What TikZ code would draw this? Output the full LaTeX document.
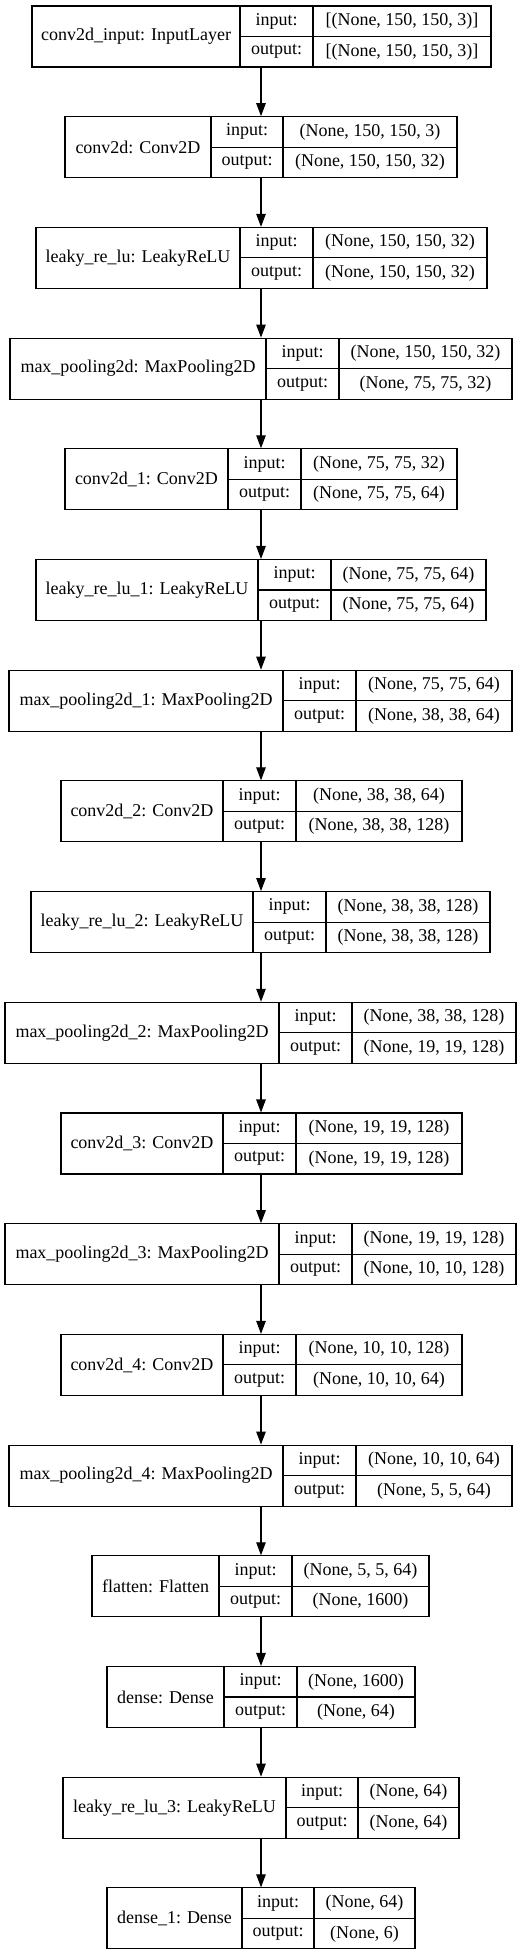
\documentclass[tikz,border=0pt]{standalone}
\usepackage{fontspec}
\setmainfont{Liberation Serif}
\usepackage{tikz}
\usetikzlibrary{arrows.meta}

\tikzset{
  cell/.style={draw,line width=1.1pt,inner sep=0pt,font=\fontsize{18}{20}\selectfont},
  flow/.style={line width=1.1pt,-{Triangle[length=13pt,width=9.5pt]}}
}

\begin{document}
\begin{tikzpicture}[x=1pt,y=-1pt]
                \useasboundingbox (0,0) rectangle (527,1955);
                \coordinate (axis) at (261,0);
                \foreach \i/\L/\da/\db/\R/\lab/\inp/\outp in {
                  1/32/240/313/491/{conv2d\_input: InputLayer}/{[(None, 150, 150, 3)]}/{[(None, 150, 150, 3)]},
                  2/65/211/283/457/{conv2d: Conv2D}/{(None, 150, 150, 3)}/{(None, 150, 150, 32)},
                  3/36/240/313/487/{leaky\_re\_lu: LeakyReLU}/{(None, 150, 150, 32)}/{(None, 150, 150, 32)},
                  4/10/266/339/512/{max\_pooling2d: MaxPooling2D}/{(None, 150, 150, 32)}/{(None, 75, 75, 32)},
                  5/65/228/301/457/{conv2d\_1: Conv2D}/{(None, 75, 75, 32)}/{(None, 75, 75, 64)},
                  6/36/258/331/486/{leaky\_re\_lu\_1: LeakyReLU}/{(None, 75, 75, 64)}/{(None, 75, 75, 64)},
                  7/9/283/356/512/{max\_pooling2d\_1: MaxPooling2D}/{(None, 75, 75, 64)}/{(None, 38, 38, 64)},
                  8/61/223/296/462/{conv2d\_2: Conv2D}/{(None, 38, 38, 64)}/{(None, 38, 38, 128)},
                  9/31/253/326/490/{leaky\_re\_lu\_2: LeakyReLU}/{(None, 38, 38, 128)}/{(None, 38, 38, 128)},
                  10/5/279/352/516/{max\_pooling2d\_2: MaxPooling2D}/{(None, 38, 38, 128)}/{(None, 19, 19, 128)},
                  11/61/223/296/462/{conv2d\_3: Conv2D}/{(None, 19, 19, 128)}/{(None, 19, 19, 128)},
                  12/5/279/352/516/{max\_pooling2d\_3: MaxPooling2D}/{(None, 19, 19, 128)}/{(None, 10, 10, 128)},
                  13/61/223/296/462/{conv2d\_4: Conv2D}/{(None, 10, 10, 128)}/{(None, 10, 10, 64)},
                  14/9/283/356/512/{max\_pooling2d\_4: MaxPooling2D}/{(None, 10, 10, 64)}/{(None, 5, 5, 64)},
                  15/92/219/292/429/{flatten: Flatten}/{(None, 5, 5, 64)}/{(None, 1600)},
                  16/107/224/297/415/{dense: Dense}/{(None, 1600)}/{(None, 64)},
                  17/63/286/358/459/{leaky\_re\_lu\_3: LeakyReLU}/{(None, 64)}/{(None, 64)},
                  18/107/242/314/415/{dense\_1: Dense}/{(None, 64)}/{(None, 6)}}
                {
                  \pgfmathsetmacro\yc{36.5+110.7*(\i-1)}
                  \node[cell,minimum width={(\da-\L)*1pt},minimum height=61pt] (n\i) at ({(\L+\da)/2},\yc) {\lab};
                  \node[cell,minimum width={(\db-\da)*1pt},minimum height=30.5pt] (n\i-in) at ({(\da+\db)/2},\yc-15.25) {input:};
                  \node[cell,minimum width={(\db-\da)*1pt},minimum height=30.5pt] (n\i-out) at ({(\da+\db)/2},\yc+15.25) {output:};
                  \node[cell,minimum width={(\R-\db)*1pt},minimum height=30.5pt] (n\i-ishape) at ({(\db+\R)/2},\yc-15.25) {\inp};
                  \node[cell,minimum width={(\R-\db)*1pt},minimum height=30.5pt] (n\i-oshape) at ({(\db+\R)/2},\yc+15.25) {\outp};
                }
                \foreach \i [evaluate=\i as \j using int(\i+1)] in {1,...,17}
                  \draw[flow] (n\i.south -| axis) -- (n\j.north -| axis);
            \end{tikzpicture}
\end{document}
